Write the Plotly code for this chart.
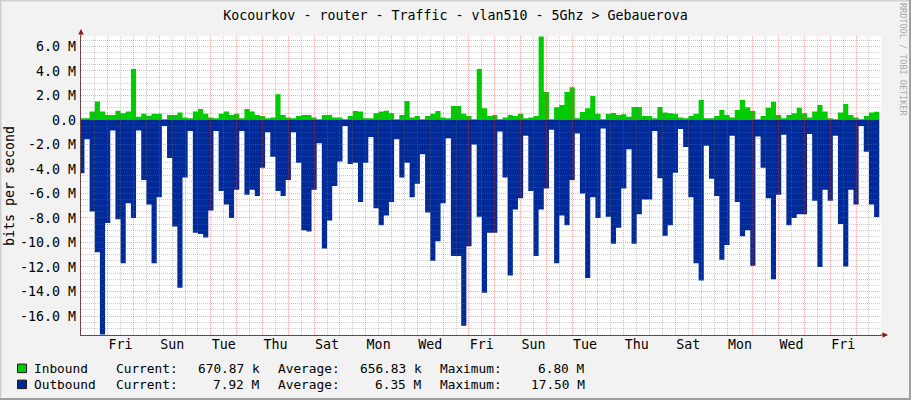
import plotly.graph_objects as go
from datetime import datetime, timedelta

TITLE = "Kocourkov - router - Traffic - vlan510 - 5Ghz > Gebauerova"
Y_TITLE = "bits per second"
WATERMARK = "RRDTOOL / TOBI OETIKER"

# samples: 4h48m averages, values in Mbit/s
SAMPLE_START = datetime(2020, 12, 30, 21, 36)
SAMPLE_STEP = timedelta(minutes=288)

inbound_M = [
    0.14, 0.14, 0.68, 1.5, 0.68, 0.4, 0.4, 0.76, 0.54, 0.68,
    4.16, 0.27, 0.5, 0.35, 0.5, 0.5, 0.05, 0.4, 0.4, 0.6,
    0.2, 0.14, 0.68, 0.9, 0.5, 0.2, 0.14, 0.5, 0.68, 0.4,
    0.5, 0.14, 0.9, 0.68, 0.4, 0.33, 0.14, 0.2, 2.1, 0.4,
    0.2, 0.14, 0.33, 0.4, 0.4, 0.2, 0.05, 0.4, 0.4, 0.2,
    0.2, 0.05, 0.33, 0.73, 0.68, 0.14, 0.14, 0.54,
    0.68, 0.76, 0.54, 0.05, 0.4, 1.55, 0.2, 0.33, 0.05, 0.33,
    0.5, 0.73, 0.2, 0.14, 1.14, 1.14, 0.5, 0.33, 0.05, 4.16,
    0.95, 0.33, 0.4, 0.05, 0.2, 0.4, 0.33, 0.5, 0.14, 0.2,
    0.33, 6.8, 2.28, 0.05, 1.03, 1.22, 2.28, 2.66, 0.14, 0.65,
    0.95, 1.96, 0.5, 0.05, 0.5, 0.57, 0.4, 0.46, 0.27, 1.06,
    1.06, 0.33, 0.33, 0.14, 1.06, 0.6, 0.54, 0.5, 0.2, 0.14,
    0.33, 0.5, 1.63, 0.14, 0.14, 0.33, 0.82, 0.4, 0.2, 0.82,
    1.63, 1.03, 0.73, 0.05, 0.33, 1.0, 1.49, 0.4, 0.14, 0.4,
    0.54, 1.0, 0.54, 0.2, 0.68, 1.22, 0.68, 0.14, 0.05, 0.6,
    1.3, 0.4, 0.2, 0.05, 0.33, 0.6, 0.67,
]

outbound_M = [
    4.35, 1.57, 7.47, 10.8, 17.5, 8.4, 0.87, 8.1, 11.7, 6.8,
    8.0, 0.87, 4.9, 6.9, 11.7, 6.3, 0.5, 3.1, 8.7, 13.7,
    4.7, 0.9, 9.2, 9.3, 9.6, 7.4, 0.9, 5.8, 6.9, 8.0,
    5.7, 0.9, 6.1, 5.7, 6.2, 3.9, 1.0, 3.0, 5.8, 6.2,
    4.9, 1.0, 3.5, 9.0, 9.1, 5.7, 1.9, 10.5, 8.2, 5.4,
    3.4, 0.5, 3.6, 3.5, 6.7, 3.5, 1.4, 7.2,
    8.6, 7.8, 6.7, 1.57, 4.7, 3.5, 6.3, 5.2, 2.8, 7.55,
    11.5, 9.9, 6.8, 1.5, 11.1, 11.1, 16.8, 10.3, 2.0, 7.9,
    14.1, 9.2, 9.2, 0.95, 4.7, 12.7, 7.3, 6.4, 1.3, 5.8,
    11.1, 7.3, 5.6, 0.8, 11.7, 7.8, 8.6, 4.9, 1.1, 6.0,
    12.9, 6.3, 8.0, 0.7, 7.9, 10.1,
    8.8, 5.6, 2.4, 10.1, 7.7, 6.5, 6.5, 0.9, 4.75, 9.45,
    8.6, 4.3, 0.73, 2.2, 6.3, 11.7, 13.1, 2.1, 4.8, 6.2,
    11.4, 10.2, 1.3, 6.7, 9.5, 9.0, 11.9, 1.36, 3.9, 6.4,
    13.0, 6.1, 1.2, 8.6, 8.0, 7.7, 7.7, 1.14, 6.6, 12.0,
    5.7, 6.6, 1.3, 8.5, 11.95, 5.7, 6.9, 0.49, 2.6, 6.9, 7.92,
]

day_labels = ["Fri", "Sun", "Tue", "Thu", "Sat", "Mon", "Wed", "Fri",
              "Sun", "Tue", "Thu", "Sat", "Mon", "Wed", "Fri"]
FIRST_LABEL_NOON = datetime(2021, 1, 1, 12)
label_times = [FIRST_LABEL_NOON + timedelta(days=2 * k) for k in range(len(day_labels))]

ytick_vals = [-16, -14, -12, -10, -8, -6, -4, -2, 0, 2, 4, 6]
ytick_text = ["-16.0 M", "-14.0 M", "-12.0 M", "-10.0 M", "-8.0 M", "-6.0 M",
              "-4.0 M", "-2.0 M", "0.0", "2.0 M", "4.0 M", "6.0 M"]

legend_names = ["Inbound", "Outbound"]
legend_current = ["670.87 k", "7.92 M"]
legend_average = ["656.83 k", "6.35 M"]
legend_maximum = ["6.80 M", "17.50 M"]

X_START = datetime(2020, 12, 30, 23, 12)
X_END = datetime(2021, 1, 30, 23, 12)
Y_RANGE = [-17.55, 6.85]

GREEN = "#00CC00"
BLUE = "#002A97"
FONT = "DejaVu Sans Mono"

W, H = 911, 400
ML, MR, MT, MB = 81, 30, 36, 65
PW, PH = W - ML - MR, H - MT - MB


def px(x):
    return (x - ML) / PW


def py(y):
    return (H - MB - y) / PH


n = len(inbound_M)
times = [SAMPLE_START + i * SAMPLE_STEP for i in range(n + 1)]
inb = inbound_M + [inbound_M[-1]]
outb = [-v for v in outbound_M] + [-outbound_M[-1]]

fig = go.Figure()
fig.add_trace(go.Scatter(x=times, y=inb, mode="lines", line=dict(shape="hv", width=0, color=GREEN),
                         fill="tozeroy", fillcolor=GREEN, showlegend=False, hoverinfo="skip"))
fig.add_trace(go.Scatter(x=times, y=outb, mode="lines", line=dict(shape="hv", width=0, color=BLUE),
                         fill="tozeroy", fillcolor=BLUE, showlegend=False, hoverinfo="skip"))
# empty trace to create the grid overlay subplot (grid drawn above the areas)
fig.add_trace(go.Scatter(x=[], y=[], xaxis="x2", yaxis="y2", showlegend=False, hoverinfo="skip"))

RED_GRID = "rgba(235,60,60,0.42)"
GREY_GRID = "rgba(120,120,120,0.36)"
DASH = "1px,1px"
AXIS_COL = "#6E4444"

fig.update_layout(
    width=W, height=H,
    margin=dict(l=ML, r=MR, t=MT, b=MB, pad=0),
    paper_bgcolor="#F2F2F2", plot_bgcolor="rgba(0,0,0,0)",
    font=dict(family=FONT, size=13.3, color="#000000"),
    title=dict(text=TITLE, x=0.5, xref="container", xanchor="center",
               y=1 - 15 / H, yref="container", yanchor="middle",
               font=dict(family=FONT, size=13.3, color="#000000")),
    xaxis=dict(domain=[0, 1], range=[X_START, X_END], type="date",
               tickmode="array", tickvals=label_times, ticktext=day_labels,
               showgrid=False, zeroline=False, showline=False, ticks="",
               tickfont=dict(family=FONT, size=13.3, color="#000000")),
    yaxis=dict(domain=[0, 1], range=Y_RANGE, tickmode="array", tickvals=ytick_vals,
               ticktext=ytick_text, showgrid=False, zeroline=False, showline=False,
               ticks="", ticklabelstandoff=4,
               tickfont=dict(family=FONT, size=13.3, color="#000000")),
    xaxis2=dict(domain=[0, 1], anchor="y2", range=[X_START, X_END], type="date",
                tickmode="linear", tick0="2021-01-01", dtick=86400000,
                showticklabels=False, ticks="", showgrid=True, gridcolor=RED_GRID,
                griddash=DASH, gridwidth=1, zeroline=False,
                showline=True, linecolor=AXIS_COL, linewidth=1,
                minor=dict(tick0="2021-01-01 12:00", dtick=43200000, showgrid=True,
                           gridcolor=GREY_GRID, griddash=DASH, gridwidth=1)),
    yaxis2=dict(domain=[0, 1], anchor="x2", range=Y_RANGE, tickmode="linear",
                tick0=0, dtick=2, showticklabels=False, ticks="", showgrid=True,
                gridcolor=RED_GRID, griddash=DASH, gridwidth=1, zeroline=False,
                showline=True, linecolor=AXIS_COL, linewidth=1,
                minor=dict(tick0=0, dtick=0.5, showgrid=True, gridcolor=GREY_GRID,
                           griddash=DASH, gridwidth=1)),
    showlegend=False,
)

annotations = []
# y title
annotations.append(dict(text=Y_TITLE, x=px(9), y=py(186), xref="paper", yref="paper",
                        textangle=-90, showarrow=False, xanchor="center", yanchor="middle",
                        font=dict(family=FONT, size=13.3, color="#000000")))
# watermark
annotations.append(dict(text=WATERMARK, x=px(903), y=py(59), xref="paper", yref="paper",
                        textangle=90, showarrow=False, xanchor="center", yanchor="middle",
                        font=dict(family=FONT, size=8.5, color="#A8A8A8")))
# axis arrows
annotations.append(dict(text="", x=px(81), y=py(29), xref="paper", yref="paper",
                        ax=0, ay=9, showarrow=True, arrowhead=2, arrowsize=1.1,
                        arrowwidth=1, arrowcolor="#8B1A1A"))
annotations.append(dict(text="", x=px(888), y=py(335), xref="paper", yref="paper",
                        ax=-9, ay=0, showarrow=True, arrowhead=2, arrowsize=1.1,
                        arrowwidth=1, arrowcolor="#8B1A1A"))

row_y = [368.3, 384.3]
lf = dict(family=FONT, size=12.8, color="#000000")
for r in range(2):
    yy = py(row_y[r])
    for txt, xx, anc in [(legend_names[r], 34, "left"), ("Current:", 115.7, "left"),
                         (legend_current[r], 260, "right"), ("Average:", 278.3, "left"),
                         (legend_average[r], 422.4, "right"), ("Maximum:", 439.7, "left"),
                         (legend_maximum[r], 585, "right")]:
        annotations.append(dict(text=txt, x=px(xx), y=yy, xref="paper", yref="paper",
                                showarrow=False, xanchor=anc, yanchor="middle",
                                borderpad=0, borderwidth=0, font=lf))
fig.update_layout(annotations=annotations)

shapes = []
# white plotting canvas beneath everything
shapes.append(dict(type="rect", xref="paper", yref="paper", x0=0, x1=1, y0=0, y1=1,
                   fillcolor="#FFFFFF", line=dict(width=0), layer="below"))
# legend swatches
for r, col in enumerate([GREEN, BLUE]):
    top = row_y[r] - 4.2
    shapes.append(dict(type="rect", xref="paper", yref="paper",
                       x0=px(17.5), x1=px(26.5), y0=py(top + 8.5), y1=py(top),
                       fillcolor=col, line=dict(color="#1A1A1A", width=1)))
# frame (3D border)
shapes.append(dict(type="line", xref="paper", yref="paper", x0=px(0.5), x1=px(0.5),
                   y0=py(0), y1=py(400), line=dict(color="#CFCFCF", width=2)))
shapes.append(dict(type="line", xref="paper", yref="paper", x0=px(0), x1=px(911),
                   y0=py(0.5), y1=py(0.5), line=dict(color="#CFCFCF", width=2)))
shapes.append(dict(type="line", xref="paper", yref="paper", x0=px(910), x1=px(910),
                   y0=py(0), y1=py(400), line=dict(color="#9E9E9E", width=2)))
shapes.append(dict(type="line", xref="paper", yref="paper", x0=px(0), x1=px(911),
                   y0=py(399), y1=py(399), line=dict(color="#9E9E9E", width=2)))
fig.update_layout(shapes=shapes)

fig.write_html("out.html", config={"displayModeBar": False},
               post_script="document.body.style.margin='0';document.body.style.overflow='hidden';")
